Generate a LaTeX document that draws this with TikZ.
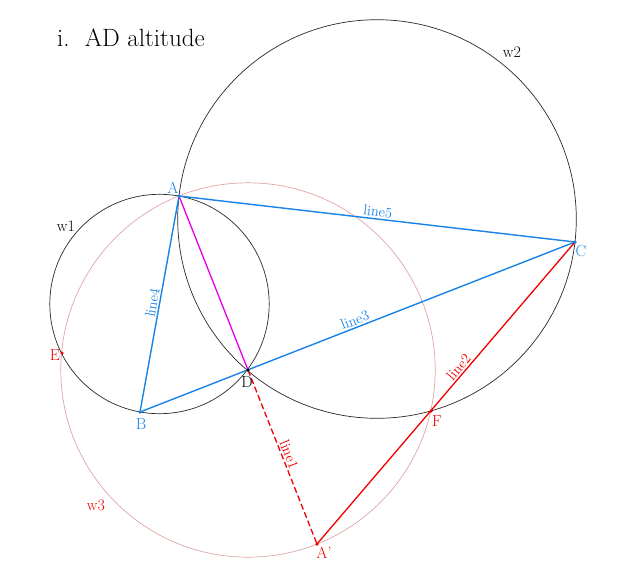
\documentclass[tikz,border=0pt]{standalone}
\usepackage{fontspec}
\usetikzlibrary{calc}
\definecolor{gblue}{RGB}{25,130,230}
\definecolor{gred}{RGB}{240,0,0}
\definecolor{gmag}{RGB}{230,0,230}
\definecolor{gpink}{RGB}{225,165,165}
\definecolor{ggray}{RGB}{40,40,40}
\tikzset{
  circ/.style={draw=ggray, line width=0.7pt},
  pinkcirc/.style={draw=gpink, line width=0.7pt},
  blueline/.style={draw=gblue, line width=1.4pt},
  redline/.style={draw=gred, line width=1.3pt},
  lbl/.style={font=\fontsize{14.5}{16}\selectfont, sloped, above, inner sep=1.5pt},
  ptlbl/.style={font=\fontsize{16}{18}\selectfont, inner sep=0pt},
  dot/.style={circle, inner sep=0pt, minimum size=3.5pt},
}
\begin{document}
\begin{tikzpicture}[x=1pt,y=-1pt]
\useasboundingbox (0,0) rectangle (627,584);
% points
\coordinate (A) at (179,196);
\coordinate (B) at (140,412);
\coordinate (C) at (575,242);
\coordinate (D) at (248,370);
\coordinate (Ap) at (317,544);
\coordinate (E) at (62,353);
\coordinate (F) at (431,411);
% circles
\draw[circ] (159.5,304) circle[radius=109.7pt];
\draw[circ] (377,219) circle[radius=199.3pt];
\draw[pinkcirc] (D) circle[radius=187.2pt];
% lines
\draw[blueline] (A) -- node[lbl, text=gblue] {line5} (C);
\draw[blueline] (B) -- node[lbl, text=gblue] {line3} (C);
\draw[blueline] (B) -- node[lbl, text=gblue] {line4} (A);
\draw[draw=gmag, line width=1.3pt] (A) -- (D);
\draw[redline, dashed, dash pattern=on 6pt off 3pt] (D) -- node[lbl, text=gred] {line1} (Ap);
\draw[redline] (Ap) -- node[lbl, text=gred, pos=0.57] {line2} (C);
% dots
\node[dot, fill=gblue] (dA) at (A) {};
\node[dot, fill=gblue] (dB) at (B) {};
\node[dot, fill=gblue] (dC) at (C) {};
\node[dot, fill=black] (dD) at (D) {};
\node[dot, fill=gred] (dE) at (E) {};
\node[dot, fill=gred] (dF) at (F) {};
\node[dot, fill=gred] (dAp) at (Ap) {};
% point labels
\node[ptlbl, text=gblue] (lA) at (173,188) {A};
\node[ptlbl, text=gblue] (lB) at (141,424) {B};
\node[ptlbl, text=gblue] (lC) at (581,251) {C};
\node[ptlbl, text=black] (lD) at (247,382) {D};
\node[ptlbl, text=gred] (lE) at (55,355) {E};
\node[ptlbl, text=gred] (lF) at (437,421) {F};
\node[ptlbl, text=gred] (lAp) at (324,553) {A'};
% circle labels
\node[ptlbl, text=black] (w1) at (66,226) {w1};
\node[ptlbl, text=black] (w2) at (512,52) {w2};
\node[ptlbl, text=gred] (w3) at (96,505) {w3};
% title
\node[anchor=base west, inner sep=0pt, font=\fontsize{25}{29}\selectfont] (title) at (57,46) {i.\ \ AD altitude};
\end{tikzpicture}
\end{document}
